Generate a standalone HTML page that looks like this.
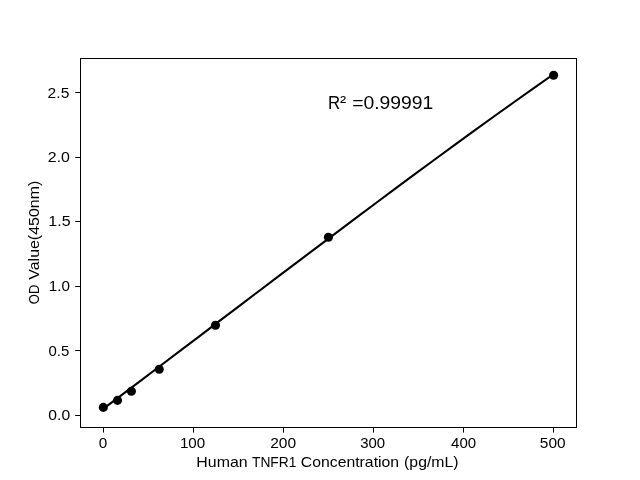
<!DOCTYPE html>
<html>
<head>
<meta charset="utf-8">
<title>Human TNFR1 standard curve</title>
<style>
html,body{margin:0;padding:0;background:#fff;}
body{width:640px;height:480px;overflow:hidden;}
svg{display:block;will-change:transform;}
text{font-family:"Liberation Sans",sans-serif;fill:#000;}
</style>
</head>
<body>
<svg width="640" height="480" viewBox="0 0 640 480">
<rect x="0" y="0" width="640" height="480" fill="#ffffff"/>
<!-- fit line -->
<polyline points="102.5,409.45 122.2,394.67 141.8,379.86 161.4,365.02 181.0,350.17 200.6,335.30 220.2,320.44 239.8,305.57 259.4,290.72 279.0,275.89 298.6,261.08 318.2,246.31 337.8,231.58 357.4,216.89 377.0,202.26 396.6,187.69 416.2,173.19 435.8,158.77 455.4,144.43 475.0,130.18 494.6,116.03 514.2,101.99 533.8,88.06 553.5,74.25" fill="none" stroke="#000" stroke-width="2.08" stroke-linejoin="round" stroke-linecap="butt"/>
<!-- markers -->
<g fill="#000">
<circle cx="103.3" cy="407.4" r="4.55"/>
<circle cx="117.5" cy="400.4" r="4.55"/>
<circle cx="131.4" cy="391.25" r="4.55"/>
<circle cx="159.25" cy="369.25" r="4.55"/>
<circle cx="215.5" cy="325.25" r="4.55"/>
<circle cx="328.4" cy="237.25" r="4.55"/>
<circle cx="553.6" cy="75.2" r="4.55"/>
</g>
<!-- axes frame -->
<g shape-rendering="crispEdges" stroke="#000" stroke-width="1" fill="none">
<rect x="80.5" y="58.5" width="496" height="369"/>
</g>
<!-- ticks -->
<g fill="#000">
<rect x="103" y="428" width="1" height="4.6"/>
<rect x="193" y="428" width="1" height="4.6"/>
<rect x="283" y="428" width="1" height="4.6"/>
<rect x="373" y="428" width="1" height="4.6"/>
<rect x="463" y="428" width="1" height="4.6"/>
<rect x="553" y="428" width="1" height="4.6"/>
<rect x="75.2" y="415" width="4.8" height="1"/>
<rect x="75.2" y="350" width="4.8" height="1"/>
<rect x="75.2" y="286" width="4.8" height="1"/>
<rect x="75.2" y="221" width="4.8" height="1"/>
<rect x="75.2" y="157" width="4.8" height="1"/>
<rect x="75.2" y="92" width="4.8" height="1"/>
</g>
<g>
<text x="98.70" y="447.6" font-size="14.2px" textLength="8.50" lengthAdjust="spacingAndGlyphs">0</text>
<text x="179.91" y="447.6" font-size="14.2px" textLength="25.26" lengthAdjust="spacingAndGlyphs">100</text>
<text x="270.15" y="447.6" font-size="14.2px" textLength="25.91" lengthAdjust="spacingAndGlyphs">200</text>
<text x="360.20" y="447.6" font-size="14.2px" textLength="24.91" lengthAdjust="spacingAndGlyphs">300</text>
<text x="451.09" y="447.6" font-size="14.2px" textLength="25.10" lengthAdjust="spacingAndGlyphs">400</text>
<text x="539.88" y="447.6" font-size="14.2px" textLength="25.76" lengthAdjust="spacingAndGlyphs">500</text>
<text x="48.35" y="420.3" font-size="14.2px" textLength="21.80" lengthAdjust="spacingAndGlyphs">0.0</text>
<text x="48.45" y="355.7" font-size="14.2px" textLength="20.82" lengthAdjust="spacingAndGlyphs">0.5</text>
<text x="48.85" y="291.0" font-size="14.2px" textLength="21.17" lengthAdjust="spacingAndGlyphs">1.0</text>
<text x="48.34" y="226.4" font-size="14.2px" textLength="22.23" lengthAdjust="spacingAndGlyphs">1.5</text>
<text x="47.81" y="161.8" font-size="14.2px" textLength="22.17" lengthAdjust="spacingAndGlyphs">2.0</text>
<text x="47.63" y="97.6" font-size="14.2px" textLength="21.70" lengthAdjust="spacingAndGlyphs">2.5</text>
<text x="196.36" y="467.2" font-size="14.2px" textLength="51.26" lengthAdjust="spacingAndGlyphs">Human</text>
<text x="251.97" y="467.2" font-size="14.2px" textLength="44.36" lengthAdjust="spacingAndGlyphs">TNFR1</text>
<text x="300.82" y="467.2" font-size="14.2px" textLength="98.30" lengthAdjust="spacingAndGlyphs">Concentration</text>
<text x="404.12" y="467.2" font-size="14.2px" textLength="54.38" lengthAdjust="spacingAndGlyphs">(pg/mL)</text>
<text x="327.90" y="108.75" font-size="18.0px" textLength="12.18" lengthAdjust="spacingAndGlyphs">R</text>
<text x="339.93" y="107.85" font-size="18.0px" textLength="6.10" lengthAdjust="spacingAndGlyphs">²</text>
<text x="352.22" y="108.75" font-size="18.0px" textLength="81.14" lengthAdjust="spacingAndGlyphs">=0.99991</text>
<text transform="translate(39.0,304.18) rotate(-90)" font-size="14.2px" textLength="19.51" lengthAdjust="spacingAndGlyphs">OD</text>
<text transform="translate(39.0,279.74) rotate(-90)" font-size="14.2px" textLength="98.99" lengthAdjust="spacingAndGlyphs">Value(450nm)</text>
</g>
</svg>
</body>
</html>
